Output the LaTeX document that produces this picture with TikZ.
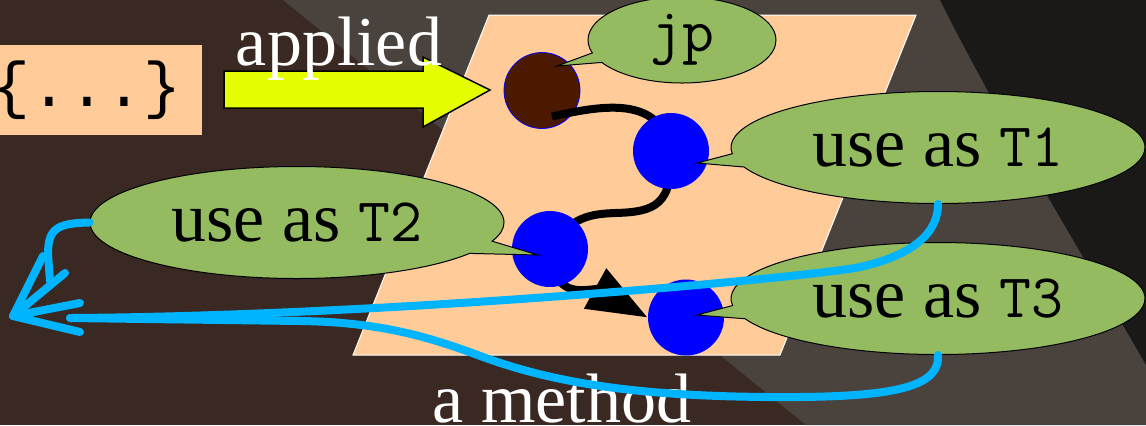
\documentclass[tikz,border=0pt]{standalone}
\usepackage{fontspec}
\setmainfont{Liberation Serif}
\newfontfamily\codefont{Liberation Mono}
\usetikzlibrary{shapes.callouts,arrows.meta,calc}
\definecolor{bgbrown}{RGB}{58,41,34}
\definecolor{bgband}{RGB}{74,66,60}
\definecolor{bgdark}{RGB}{27,25,24}
\definecolor{peach}{RGB}{255,204,153}
\definecolor{callgreen}{RGB}{148,187,96}
\definecolor{nodebrown}{RGB}{75,25,0}
\definecolor{arrowyellow}{RGB}{229,255,0}
\definecolor{flowcyan}{RGB}{0,180,255}
\newcommand\tcode[1]{{\ttfamily\fontsize{31}{36}\selectfont #1}}
\pgfdeclarelayer{bglayer}
\pgfdeclarelayer{midlayer}
\pgfsetlayers{bglayer,midlayer,main}
\tikzset{
  say/.style={ellipse callout, fill=callgreen, draw=black, line width=0.5pt,
    inner sep=0pt, minimum width=207pt, minimum height=56pt,
    font=\fontsize{35}{40}\selectfont, callout pointer arc=14},
  dot/.style={circle, fill=blue, minimum size=38pt, inner sep=0pt},
  flow/.style={draw=flowcyan, line width=4pt, line cap=round, line join=round},
  chain/.style={draw=black, line width=4pt},
  whitetext/.style={text=white, font=\fontsize{35}{40}\selectfont, inner sep=0pt, anchor=base},
}
\begin{document}
\begin{tikzpicture}[x=0.5pt,y=-0.5pt]
\useasboundingbox (0,0) rectangle (1146,425);
\begin{pgfonlayer}{bglayer}
  \fill[bgbrown] (0,0) rectangle (1146,425);
  \fill[bgband] (283,0) -- (1146,0) -- (1146,425) -- (806,425) -- cycle;
  \fill[bgdark] (940,0) -- (1146,0) -- (1146,365) .. controls (1080,250) and (1000,120) .. (940,0) -- cycle;
  % method plane
  \filldraw[fill=peach, draw=white, line width=0.5pt] (489,15) -- (916,15) -- (780,355) -- (353,355) -- cycle;
  % code box
  \node[fill=peach, minimum width=115pt, minimum height=45pt, inner sep=0pt,
        font=\codefont\fontsize{31.5}{36}\selectfont] (code) at (87,90) {\{...\}};
  % block arrow
  \filldraw[fill=arrowyellow, draw=black, line width=0.75pt, line join=miter]
    (224,71) -- (423,71) -- (423,57) -- (490,90) -- (423,127) -- (423,108) -- (224,108) -- cycle;
  \node[whitetext] (applied) at (339,65) {applied};
  \node[whitetext] (method) at (562,422) {a method};
  \node[circle, fill=nodebrown, draw=blue, line width=0.4pt, minimum size=38pt, inner sep=0pt] (jpnode) at (542,90.5) {};
\end{pgfonlayer}
% shadow nodes
\node[dot] (t1dot) at (671,151) {};
\node[dot] (t2dot) at (550,249) {};
\node[dot] (t3dot) at (686,317.5) {};
\begin{pgfonlayer}{midlayer}
  \draw[chain] ($(jpnode.center)+(10,26)$) .. controls (600,106) and (660,94) .. (t1dot.center);
  \draw[chain] (t1dot.center) .. controls (673,205) and (655,212) .. (615,213) .. controls (592,214) and (570,216) .. (t2dot.center);
  \draw[chain, -{Triangle[length=30pt,width=22pt]}] (t2dot.center) .. controls (554,292) and (572,292) .. (596,289) -- (t3dot.west);
\end{pgfonlayer}
% callouts
\coordinate (pjp) at (557,66);
\coordinate (p1) at (697,163);
\coordinate (p2) at (538,255);
\coordinate (p3) at (697,315);
\node[say, minimum width=94pt, minimum height=43pt, callout absolute pointer={(pjp)}] (jp) at (682,40) {\tcode{jp}};
\node[say, callout absolute pointer={(p1)}] (T1) at (938,147.5) {use as \tcode{T1}};
\node[say, callout absolute pointer={(p2)}] (T2) at (297,222.5) {use as \tcode{T2}};
\node[say, callout absolute pointer={(p3)}] (T3) at (938,298.5) {use as \tcode{T3}};
% flows to the left
\coordinate (tip) at (13,316);
\coordinate (hend) at (70,318);
\coordinate (vend) at (50,281);
\coordinate (hb1) at (80,303);
\coordinate (hb2) at (80,332);
\coordinate (vb1) at (43,256);
\coordinate (vb2) at (65,273);
\draw[flow] (T2.west) .. controls (55,223) and (48,230) .. (48,255) -- (vend);
\draw[flow] (T1.south) .. controls (938,240) and (900,258) .. (860,267) .. controls (820,276) and (400,316) .. (hend);
\draw[flow] (T3.south) .. controls (940,385) and (900,396) .. (800,397) .. controls (650,398) and (560,385) .. (483,357) .. controls (430,337) and (380,322) .. (300,321) -- (hend);
\draw[flow] (hb1) -- (tip) -- (hb2);
\draw[flow] (vb1) -- (tip) -- (vb2);
\end{tikzpicture}
\end{document}
